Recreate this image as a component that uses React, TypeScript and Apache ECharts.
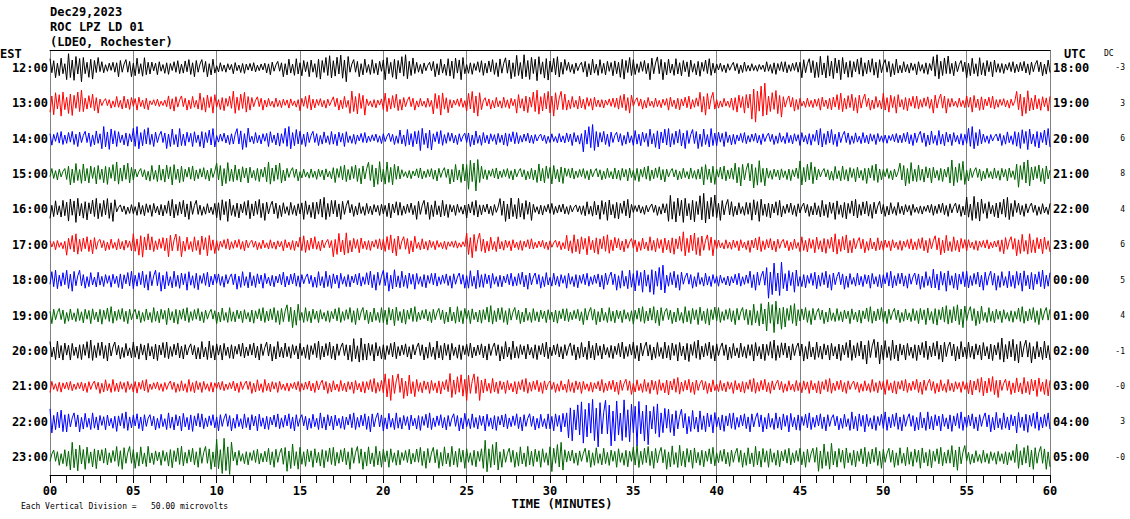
import React, { useEffect, useRef } from "react";
import * as echarts from "echarts";

// ---- Labels ----
const TITLE_LINES = ["Dec29,2023", "ROC LPZ LD 01", "(LDEO, Rochester)"];
const EST_HOURS = ["12:00", "13:00", "14:00", "15:00", "16:00", "17:00", "18:00", "19:00", "20:00", "21:00", "22:00", "23:00"];
const UTC_HOURS = ["18:00", "19:00", "20:00", "21:00", "22:00", "23:00", "00:00", "01:00", "02:00", "03:00", "04:00", "05:00"];
const DC_VALUES = ["-3", "3", "6", "8", "4", "6", "5", "4", "-1", "-0", "3", "-0"];
const TRACE_COLORS = ["#000000", "#ff0000", "#0000ff", "#006400"];
const X_TITLE = "TIME (MINUTES)";
const SCALE_NOTE = "Each Vertical Division =   50.00 microvolts";

// ---- Per-minute amplitude envelopes read from the record (half peak-to-peak, px) ----
const TRACE_1200 = [10,14,12,6,9,10,7,7,9,9, 5,6,5,7,9,9,12,14,9,8, 12,13,6,9,12,7,9,11,13,13, 11,6,9,8,12,8,12,9,9,9, 5,6,4,7,6,10,12,12,10,10, 9,6,7,13,8,10,9,6,7,8];
const TRACE_1300 = [13,13,10,5,7,7,4,8,7,10, 8,12,7,5,5,8,5,7,12,5, 10,7,5,12,5,13,6,6,10,13, 13,7,7,5,10,6,5,7,7,12, 5,10,20,14,8,5,7,10,10,7, 10,8,7,10,5,9,7,5,13,8];
const TRACE_1400 = [7,8,8,12,8,12,8,10,8,10, 6,11,6,8,12,8,7,8,6,5, 6,9,12,8,6,8,6,8,6,5, 5,7,14,8,7,8,11,10,10,10, 8,6,6,6,6,7,10,8,6,6, 5,7,8,8,7,12,5,7,11,10];
const TRACE_1500 = [6,11,10,11,12,6,9,11,8,7, 12,9,8,12,7,5,6,9,10,13, 12,5,6,7,10,17,6,6,6,10, 10,6,6,6,7,8,8,6,6,11, 8,12,14,6,7,13,6,8,8,10, 6,12,9,8,14,7,6,7,14,10];
const TRACE_1600 = [9,13,11,12,5,7,7,10,10,6, 12,9,11,9,7,10,12,10,7,6, 9,7,10,9,6,9,6,12,11,6, 6,5,8,11,10,5,6,14,13,16, 11,7,12,9,7,7,9,10,10,9, 7,6,5,7,7,13,9,12,7,6];
const TRACE_1700 = [5,11,9,6,6,13,8,12,8,11, 6,6,5,5,6,9,6,12,8,6, 11,9,6,5,4,13,8,6,6,5, 5,10,10,10,7,7,8,10,13,11, 5,6,8,7,6,8,9,11,8,7, 6,6,8,10,8,6,5,9,11,9];
const TRACE_1800 = [10,11,8,7,9,10,11,9,10,8, 7,9,8,7,8,7,9,8,7,10, 11,9,8,7,8,10,8,7,9,8, 7,8,7,9,10,12,15,10,8,7, 6,7,10,18,12,8,10,9,7,8, 9,8,9,11,10,9,10,9,11,10];
const TRACE_1900 = [8,7,8,9,8,7,8,9,8,7, 8,7,8,9,12,8,7,8,9,8, 10,9,7,8,9,8,10,9,8,7, 8,7,9,8,7,9,10,8,9,10, 8,9,12,17,12,9,8,7,8,9, 8,7,9,10,12,10,8,7,9,9];
const TRACE_2000 = [10,9,11,10,8,9,10,9,8,10, 9,8,9,10,8,9,10,9,13,10, 9,8,9,10,9,8,9,10,8,9, 8,9,10,8,9,10,9,10,11,10, 9,8,10,11,9,10,9,10,11,13, 11,9,10,11,10,9,10,13,12,10];
const TRACE_2100 = [6,5,6,7,6,7,5,6,7,6, 5,6,7,6,5,6,7,6,7,8, 14,12,7,8,13,14,8,7,8,7, 6,7,6,7,8,7,8,9,8,7, 6,7,8,7,6,7,8,7,6,7, 8,7,8,7,6,9,11,8,9,10];
const TRACE_2200 = [13,10,9,8,10,9,8,9,10,8, 9,8,9,8,9,8,9,8,9,10, 9,8,9,8,9,8,9,8,9,8, 10,20,25,24,22,24,18,14,12,11, 10,9,10,9,10,9,9,8,10,9, 10,9,10,9,10,9,10,9,11,10];
const TRACE_2300 = [8,15,12,9,12,11,8,11,10,12, 19,8,8,10,14,10,11,10,12,11, 10,8,11,11,11,10,17,10,11,10, 15,8,10,9,10,12,11,12,11,10, 9,10,11,10,9,10,14,11,10,11, 10,10,11,10,13,7,7,8,13,12];

// Stylised wiggle shape (relative swing of successive samples)
const WAVE_SHAPE = [0.9, -0.5, 0.7, -1.0, 0.45, -0.8, 0.95, -0.6, 0.4, -0.85, 1.0, -0.7, 0.55, -0.9, 0.8, -0.45, 0.65, -1.0, 0.85, -0.5, 0.45, -0.8, 0.7, -0.95, 0.6, -0.4, 0.85, -0.65, 1.0, -0.85, 0.5, -0.6, 0.75, -0.45, 0.9, -0.75, 0.55, -1.0, 0.8, -0.5, 0.4];

const TRACES = [TRACE_1200, TRACE_1300, TRACE_1400, TRACE_1500, TRACE_1600, TRACE_1700, TRACE_1800, TRACE_1900, TRACE_2000, TRACE_2100, TRACE_2200, TRACE_2300];

const FONT = '"DejaVu Sans Mono", "Liberation Mono", monospace';

function buildOption() {
  const plotH = 425;
  const rowH = plotH / TRACES.length;
  const perMin = 9;
  const series = TRACES.map((env, i) => {
    const center = plotH - rowH * (i + 0.5);
    const pts: number[][] = [];
    const off = i * 11;
    for (let m = 0; m < env.length; m++) {
      for (let s = 0; s < perMin; s++) {
        const k = m * perMin + s;
        pts.push([m + s / perMin, center + env[m] * WAVE_SHAPE[(k + off) % WAVE_SHAPE.length]]);
      }
    }
    const kEnd = env.length * perMin;
    pts.push([env.length, center + env[env.length - 1] * WAVE_SHAPE[(kEnd + off) % WAVE_SHAPE.length]]);
    return {
      type: "line",
      name: EST_HOURS[i],
      xAxisIndex: 0,
      yAxisIndex: 3,
      data: pts,
      showSymbol: false,
      symbol: "none",
      lineStyle: { color: TRACE_COLORS[i % 4], width: 1 },
      silent: true,
    };
  });

  const txt = (text: string, x: number, y: number, size: number, bold: boolean, align = "left") => ({
    type: "text",
    x,
    y,
    silent: true,
    style: {
      text,
      fill: "#000",
      font: `${bold ? "bold " : ""}${size}px ${FONT}`,
      align,
      verticalAlign: "middle",
    },
  });

  return {
    animation: false,
    backgroundColor: "#ffffff",
    grid: { left: 50, right: 80, top: 50, bottom: 44, containLabel: false },
    xAxis: [
      {
        type: "value",
        position: "bottom",
        min: 0,
        max: 60,
        interval: 5,
        axisLine: { show: true, lineStyle: { color: "#000", width: 1 } },
        axisTick: { show: true, length: 8, lineStyle: { color: "#000", width: 1 } },
        minorTick: { show: true, splitNumber: 5, length: 8, lineStyle: { color: "#000", width: 1 } },
        axisLabel: {
          show: true,
          margin: 10,
          color: "#000",
          fontFamily: FONT,
          fontWeight: "bold",
          fontSize: 12,
          formatter: (v: number) => String(v).padStart(2, "0"),
        },
        splitLine: { show: true, lineStyle: { color: "#808080", width: 1 } },
      },
      {
        type: "value",
        position: "top",
        min: 0,
        max: 60,
        axisLine: { show: true, lineStyle: { color: "#000", width: 1 } },
        axisTick: { show: false },
        axisLabel: { show: false },
        splitLine: { show: false },
      },
    ],
    yAxis: [
      {
        type: "category",
        position: "left",
        data: EST_HOURS,
        inverse: true,
        boundaryGap: true,
        axisLine: { show: false },
        axisTick: { show: false },
        splitLine: { show: false },
        axisLabel: { margin: 2, color: "#000", fontFamily: FONT, fontWeight: "bold", fontSize: 12 },
      },
      {
        type: "category",
        position: "right",
        data: UTC_HOURS,
        inverse: true,
        boundaryGap: true,
        axisLine: { show: false },
        axisTick: { show: false },
        splitLine: { show: false },
        axisLabel: { margin: 3, color: "#000", fontFamily: FONT, fontWeight: "bold", fontSize: 12 },
      },
      {
        type: "category",
        position: "right",
        data: DC_VALUES,
        inverse: true,
        boundaryGap: true,
        axisLine: { show: false },
        axisTick: { show: false },
        splitLine: { show: false },
        axisLabel: { margin: 75, align: "right", color: "#000", fontFamily: FONT, fontSize: 8 },
      },
      {
        type: "value",
        show: false,
        position: "left",
        min: 0,
        max: 425,
        splitLine: { show: false },
      },
    ],
    graphic: [
      txt(TITLE_LINES[0], 50, 12, 12, true),
      txt(TITLE_LINES[1], 50, 27, 12, true),
      txt(TITLE_LINES[2], 50, 42, 12, true),
      txt("EST", 0, 54, 12, true),
      txt("UTC", 1064, 54, 12, true),
      txt("DC", 1104, 53, 8, false),
      txt(X_TITLE, 562, 504, 12, true, "center"),
      txt(SCALE_NOTE, 21, 506, 8, false),
    ],
    series,
  };
}

export default function App() {
  const ref = useRef<HTMLDivElement>(null);
  useEffect(() => {
    document.body.style.margin = "0";
    if (!ref.current) return;
    const chart = echarts.init(ref.current, undefined, { renderer: "svg" });
    chart.setOption(buildOption() as any);
    return () => chart.dispose();
  }, []);
  return <div ref={ref} style={{ position: "fixed", left: 0, top: 0, width: 1130, height: 519, background: "#fff" }} />;
}
